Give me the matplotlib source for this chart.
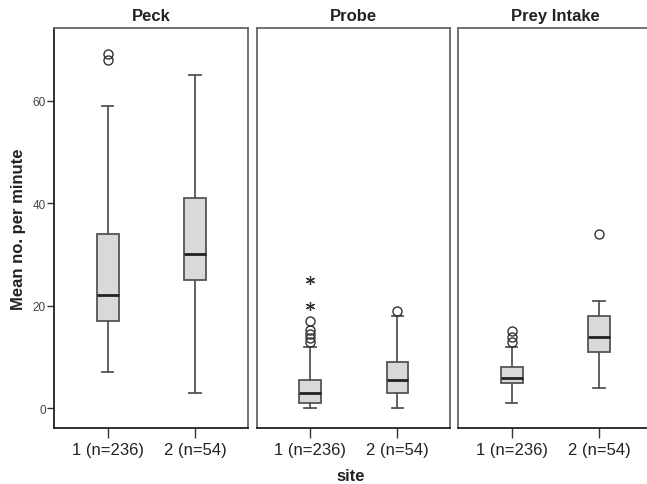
import matplotlib
matplotlib.use("Agg")
import matplotlib.pyplot as plt

plt.rcParams['font.family'] = ['Liberation Sans', 'DejaVu Sans']

panels = ["Peck", "Probe", "Prey Intake"]
site_labels = ["1 (n=236)", "2 (n=54)"]

# per panel: [site1, site2]
whislo = [[7, 3], [0, 0], [1, 4]]
q1 = [[17, 25], [1, 3], [5, 11]]
med = [[22, 30], [3, 5.5], [6, 14]]
q3 = [[34, 41], [5.5, 9], [8, 18]]
whishi = [[59, 65], [12, 18], [12, 21]]
outliers = [[[68, 69], []],
            [[13, 13.7, 14.4, 15.2, 17], [19]],
            [[13, 14, 15], [34]]]
extremes = [[[], []], [[20, 25], []], [[], []]]

W, H = 647, 485
fig = plt.figure(figsize=(W / 100, H / 100), dpi=100)

lefts = [54.3, 256.7, 458.3]
aw = 193.7
bottom = 429.3
top = 29.3

box_edge = "#555555"
for i, name in enumerate(panels):
    ax = fig.add_axes([lefts[i] / W, 1 - bottom / H, aw / W, (bottom - top) / H])
    stats = []
    for j in range(2):
        stats.append(dict(whislo=whislo[i][j], q1=q1[i][j], med=med[i][j],
                          q3=q3[i][j], whishi=whishi[i][j], fliers=outliers[i][j]))
    ax.bxp(stats, positions=[1, 2], widths=0.25, patch_artist=True,
           showfliers=True, capwidths=0.13,
           boxprops=dict(facecolor="#d9d9d9", edgecolor=box_edge, linewidth=1.3),
           medianprops=dict(color="#222222", linewidth=2.0),
           whiskerprops=dict(color=box_edge, linewidth=1.3),
           capprops=dict(color=box_edge, linewidth=1.3),
           flierprops=dict(marker='o', markerfacecolor='none',
                           markeredgecolor="#333333", markersize=6.5,
                           markeredgewidth=1.0, linestyle='none'))
    for j in range(2):
        if extremes[i][j]:
            ax.plot([j + 1] * len(extremes[i][j]), extremes[i][j], linestyle='none',
                    marker=(6, 2, 0), markersize=6.5, color="#333333",
                    markeredgewidth=0.9)
    ax.set_xlim(0.388, 2.607)
    ax.set_ylim(-3.9, 74.1)
    ax.set_title(name, fontsize=12, fontweight='bold', color="#222222", pad=6)
    ax.set_xticks([1, 2])
    ax.set_xticklabels(site_labels, fontsize=12, color="#222222")
    ax.tick_params(axis='x', length=7, width=1, color="#333333", pad=3)
    for s in ['top', 'right']:
        ax.spines[s].set_color("#666666")
        ax.spines[s].set_linewidth(1.3)
    ax.spines['bottom'].set_color("#222222")
    ax.spines['bottom'].set_linewidth(1.3)
    ax.spines['left'].set_color("#222222" if i == 0 else "#666666")
    ax.spines['left'].set_linewidth(1.3)
    if i == 0:
        ax.set_yticks([0, 20, 40, 60])
        ax.tick_params(axis='y', length=5, width=1, color="#333333",
                       labelsize=8.5, labelcolor="#444444", pad=1)
        ax.set_ylabel("Mean no. per minute", fontsize=12, fontweight='bold',
                      color="#222222", labelpad=5)
    else:
        ax.set_yticks([])

fig.text(351 / W, 1 - 477 / H, "site", fontsize=12, fontweight='bold',
         color="#222222", ha='center', va='center')

fig.savefig("out.png", dpi=100)
